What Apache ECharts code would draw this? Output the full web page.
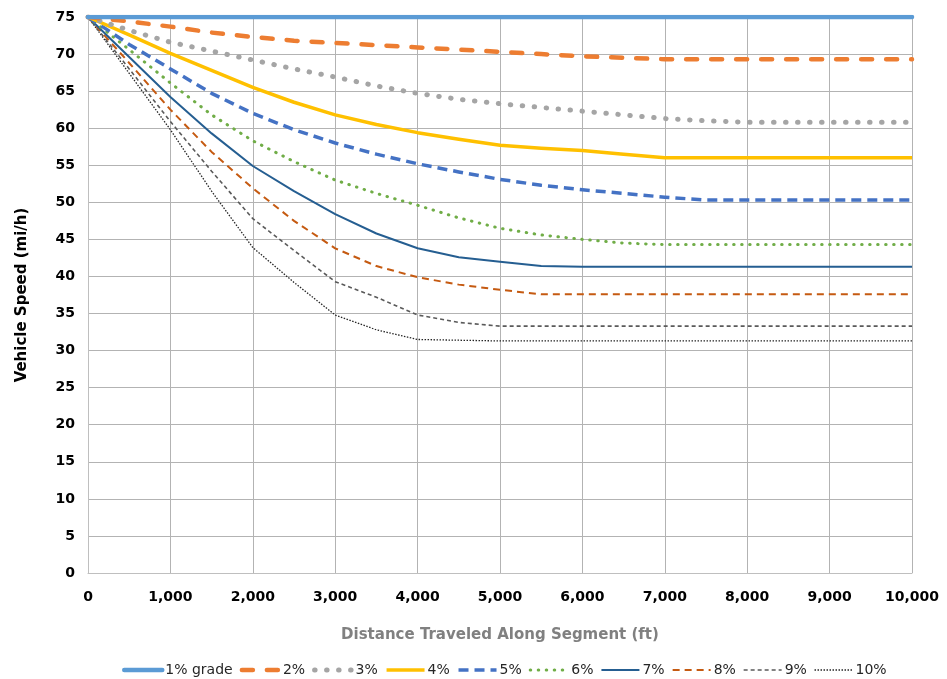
<!DOCTYPE html>
<html>
<head>
<meta charset="utf-8">
<script src="https://cdn.jsdelivr.net/npm/echarts@6/dist/echarts.min.js"></script>
<style>
    html, body { margin: 0; padding: 0; background: #fff; }
    #myChart { width: 947px; height: 679px; }
</style>
</head>
<body>
<div id="myChart"></div>
<script>
// distance along segment (ft)
var distance = [0, 500, 1000, 1500, 2000, 2500, 3000, 3500, 4000, 4500, 5000, 5500, 6000, 6500, 7000, 7500, 8000, 8500, 9000, 9500, 10000];

var legendNames = ['1% grade', '2%', '3%', '4%', '5%', '6%', '7%', '8%', '9%', '10%'];

var grade1 = [75, 75, 75, 75, 75, 75, 75, 75, 75, 75, 75, 75, 75, 75, 75, 75, 75, 75, 75, 75, 75];
var grade2 = [75, 74.4, 73.7, 72.9, 72.3, 71.8, 71.5, 71.2, 70.9, 70.6, 70.3, 70.0, 69.7, 69.5, 69.3, 69.3, 69.3, 69.3, 69.3, 69.3, 69.3];
var grade3 = [75, 73.2, 71.6, 70.4, 69.2, 68.0, 66.9, 65.7, 64.7, 63.9, 63.3, 62.8, 62.3, 61.8, 61.3, 61.0, 60.8, 60.8, 60.8, 60.8, 60.8];
var grade4 = [75, 72.6, 70.1, 67.8, 65.5, 63.5, 61.8, 60.5, 59.4, 58.5, 57.7, 57.3, 57.0, 56.5, 56.0, 56.0, 56.0, 56.0, 56.0, 56.0, 56.0];
var grade5 = [75, 71.3, 68.0, 64.7, 62.0, 59.8, 58.0, 56.5, 55.2, 54.1, 53.1, 52.3, 51.7, 51.2, 50.7, 50.3, 50.3, 50.3, 50.3, 50.3, 50.3];
var grade6 = [75, 70.6, 66.1, 61.8, 58.3, 55.5, 53.0, 51.2, 49.6, 47.9, 46.5, 45.6, 45.0, 44.5, 44.3, 44.3, 44.3, 44.3, 44.3, 44.3, 44.3];
var grade7 = [75, 69.6, 64.2, 59.3, 54.9, 51.5, 48.4, 45.8, 43.8, 42.6, 42.0, 41.4, 41.3, 41.3, 41.3, 41.3, 41.3, 41.3, 41.3, 41.3, 41.3];
var grade8 = [75, 68.8, 62.5, 56.8, 51.9, 47.5, 43.8, 41.4, 39.9, 38.9, 38.2, 37.6, 37.6, 37.6, 37.6, 37.6, 37.6, 37.6, 37.6, 37.6, 37.6];
var grade9 = [75, 68.0, 60.9, 54.2, 47.8, 43.5, 39.3, 37.2, 34.8, 33.8, 33.3, 33.3, 33.3, 33.3, 33.3, 33.3, 33.3, 33.3, 33.3, 33.3, 33.3];
var grade10 = [75, 67.4, 59.8, 51.5, 43.9, 39.2, 34.8, 32.8, 31.5, 31.4, 31.3, 31.3, 31.3, 31.3, 31.3, 31.3, 31.3, 31.3, 31.3, 31.3, 31.3];

var font = 'DejaVu Sans';

/**
 * 组合成 [x, y]
 */
var pairs = function (values) {
    return distance.map(function (d, i) {
        return [d, values[i]];
    });
};

var legendItems = [];

var lineSeries = function (name, values, color, width, type, cap) {
    var style = {
        color: color,
        width: width,
        type: type,
        cap: cap || 'butt',
        join: 'round'
    };
    legendItems.unshift({name: name, lineStyle: style});
    return {
        name: name,
        type: 'line',
        data: pairs(values),
        symbol: 'none',
        smooth: false,
        lineStyle: style,
        itemStyle: {color: color}
    };
};

var seriesList = [
    lineSeries(legendNames[9], grade10, '#262626', 1.3, [1.5, 1.5]),
    lineSeries(legendNames[8], grade9, '#5a5a5a', 1.6, [4, 3]),
    lineSeries(legendNames[7], grade8, '#c55a11', 2, [7, 5]),
    lineSeries(legendNames[6], grade7, '#255e91', 2),
    lineSeries(legendNames[5], grade6, '#70ad47', 3, [0.5, 7.5], 'round'),
    lineSeries(legendNames[4], grade5, '#4472c4', 3.5, [10, 6]),
    lineSeries(legendNames[3], grade4, '#ffc000', 3.5, 'solid'),
    lineSeries(legendNames[2], grade3, '#a5a5a5', 5, [0.5, 11.5], 'round'),
    lineSeries(legendNames[1], grade2, '#ed7d31', 4.5, [11, 14], 'round'),
    lineSeries(legendNames[0], grade1, '#5b9bd5', 4.5, 'solid', 'round')
];

var myChart = echarts.init(document.getElementById('myChart')),
    option = {
        animation: false,
        backgroundColor: '#fff',
        grid: {
            left: 88,
            right: 35,
            top: 17,
            bottom: 106
        },
        legend: {
            data: legendItems,
            left: 117,
            top: 658,
            itemWidth: 38,
            itemHeight: 12,
            itemGap: 7,
            itemStyle: {opacity: 0, borderWidth: 0},
            textStyle: {
                fontFamily: font,
                fontSize: 14,
                color: '#262626',
                padding: [0, 0, 0, -2]
            }
        },
        xAxis: {
            type: 'value',
            min: 0,
            max: 10000,
            interval: 1000,
            name: 'Distance Traveled Along Segment (ft)',
            nameLocation: 'middle',
            nameGap: 55,
            nameTextStyle: {
                fontFamily: font,
                fontSize: 15,
                fontWeight: 'bold',
                color: '#808080'
            },
            axisLine: {lineStyle: {color: '#bfbfbf'}},
            axisTick: {show: false},
            axisLabel: {
                fontFamily: font,
                fontSize: 14,
                fontWeight: 'bold',
                color: '#000',
                margin: 17,
                formatter: function (v) {
                    return v.toLocaleString('en-US');
                }
            },
            splitLine: {lineStyle: {color: '#b3b3b3', width: 1}}
        },
        yAxis: {
            type: 'value',
            min: 0,
            max: 75,
            interval: 5,
            name: 'Vehicle Speed (mi/h)',
            nameLocation: 'middle',
            nameGap: 58,
            nameTextStyle: {
                fontFamily: font,
                fontSize: 15,
                fontWeight: 'bold',
                color: '#000'
            },
            axisLine: {show: true, lineStyle: {color: '#bfbfbf'}},
            axisTick: {show: false},
            axisLabel: {
                fontFamily: font,
                fontSize: 14,
                fontWeight: 'bold',
                color: '#000',
                margin: 13
            },
            splitLine: {lineStyle: {color: '#b3b3b3', width: 1}}
        },
        series: seriesList
    };
myChart.setOption(option);
</script>
</body>
</html>
